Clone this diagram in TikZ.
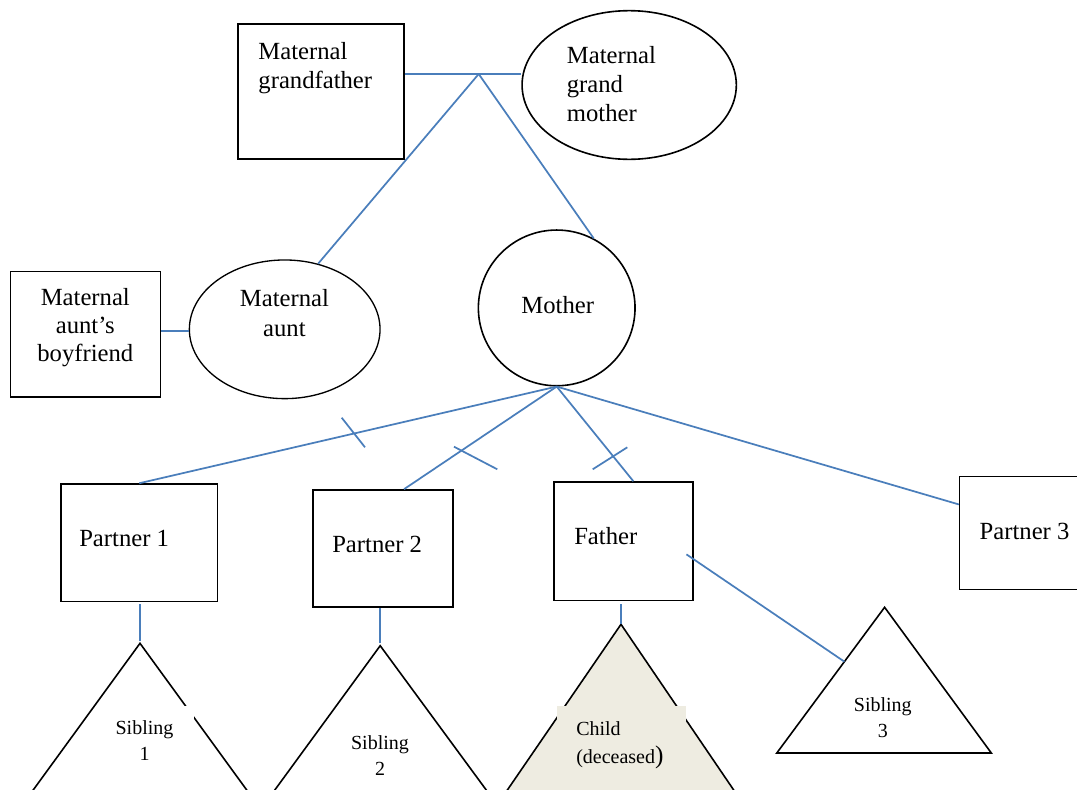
\documentclass[tikz,border=0pt]{standalone}
\usepackage{fontspec}
\setmainfont{Liberation Serif}
\usetikzlibrary{shapes.geometric,calc}
\definecolor{linkblue}{RGB}{74,126,187}
\definecolor{deadfill}{HTML}{EEECE1}
\begin{document}
\begin{tikzpicture}[x=0.75pt,y=-0.75pt,
  person/.style={draw=black,line width=1.2pt,inner sep=0pt},
  malebox/.style={person,rectangle},
  femaleoval/.style={person,ellipse},
  link/.style={draw=linkblue,line width=1.3pt},
  bigtext/.style={font=\fontsize{18.5}{21.75}\selectfont,inner sep=0pt},
  smalltext/.style={font=\fontsize{15}{19.5}\selectfont,inner sep=0pt}]
\clip (0,0) rectangle (1077,789);

% persons
\node[malebox,minimum width=124.1pt,minimum height=101.5pt,line width=1.6pt] (gf) at (321.05,91.65) {};
\node[femaleoval,minimum width=160.7pt,minimum height=111.5pt] (gm) at (629.2,85) {};
\node[malebox,minimum width=112.6pt,minimum height=94pt,line width=1pt] (bf) at (85.35,334.35) {};
\node[femaleoval,minimum width=143pt,minimum height=104pt,line width=1pt] (au) at (284.7,329.3) {};
\node[femaleoval,minimum width=117.5pt,minimum height=116.8pt] (mo) at (556.7,307.9) {};
\node[malebox,minimum width=117.2pt,minimum height=88pt] (p1) at (139.3,542.7) {};
\node[malebox,minimum width=104.8pt,minimum height=87.8pt] (p2) at (382.85,548.5) {};
\node[malebox,minimum width=104.3pt,minimum height=89pt] (fa) at (623.5,541.35) {};
\node[malebox,minimum width=94pt,minimum height=84.5pt] (p3) at (1022.3,533) {};

% triangles
\coordinate (s1) at (140,643.3);
\coordinate (s1l) at (25.9,800);
\coordinate (s1r) at (254,800);
\draw[person,line join=miter] (s1l) -- (s1) -- (s1r);

\coordinate (s2) at (380.2,645.7);
\coordinate (s2l) at (267.5,800);
\coordinate (s2r) at (493.6,800);
\draw[person] (s2l) -- (s2) -- (s2r);

\coordinate (ch) at (621,624.3);
\coordinate (chl) at (500.5,800);
\coordinate (chr) at (740.5,800);
\fill[deadfill] (chl) -- (ch) -- (chr) -- cycle;
\draw[person] (chl) -- (ch) -- (chr);

\coordinate (s3) at (884.6,607.3);
\coordinate (s3l) at (776.8,753);
\coordinate (s3r) at (991.3,753);
\draw[person] (s3) -- (s3l) -- (s3r) -- cycle;

% connectors
\coordinate (gj) at (478.7,74);
\draw[link] (gf.east |- gj) -- (gm.west |- gj);
\draw[link] (gj) -- (au.63);
\draw[link] (gj) -- (mo.62);
\coordinate (bfa) at ($(au.west)+(0,1.5)$);
\draw[link] (bf.east |- bfa) -- (bfa);

\coordinate (mj) at (mo.south);
\draw[link] (mj) -- (p1.north);
\draw[link] (mj) -- ($(p2.north)!0.3!(p2.north east)$);
\draw[link] (mj) -- ($(fa.north)!0.14!(fa.north east)$);
\draw[link] (mj) -- ($(p3.north west)!0.25!(p3.south west)$);

% separation marks
\draw[link] (341.7,417.7) -- (365,447.3);
\draw[link] (454,446.7) -- (497.3,469.3);
\draw[link] (592.7,469.3) -- (627.3,447.3);

\draw[link,shorten <=1.4pt,shorten >=2pt] (p1.south -| s1) -- (s1);
\draw[link,shorten >=1.8pt] (p2.south -| s2) -- (s2);
\draw[link,shorten <=2pt] (fa.south -| ch) -- (ch);
\coordinate (fas) at ($(fa.east)+(-7.4,13)$);
\draw[link] (fas) -- ($(s3)!0.373!(s3l)$);

% texts
\node[bigtext,anchor=north west,align=left] (gft) at (258.2,41.8) {Maternal\\grandfather};
\node[bigtext,anchor=north west,align=left,font=\fontsize{18.5}{21.75}\selectfont] (gmt) at (566.6,46) {Maternal\\grand\\mother};
\node[bigtext,anchor=north,align=center,font=\fontsize{18.5}{21.2}\selectfont] (bft) at (85.3,287.8) {Maternal\\aunt’s\\boyfriend};
\node[bigtext,anchor=north,align=center,font=\fontsize{18.5}{22.5}\selectfont] (aut) at (284.4,289.4) {Maternal\\aunt};
\node[bigtext,anchor=west] (mot) at (521.2,305) {Mother};
\node[bigtext,anchor=west] (p1t) at (79,538) {Partner 1};
\node[bigtext,anchor=west] (p2t) at (332,544) {Partner 2};
\node[bigtext,anchor=west] (fat) at (574,535.7) {Father};
\node[bigtext,anchor=west] (p3t) at (979.4,531.7) {Partner 3};

\fill[white] (97,706) rectangle (193.5,770);
\node[smalltext,anchor=north,align=center] (s1t) at (144.5,720) {Sibling\\1};
\node[smalltext,anchor=north,align=center] (s2t) at (380,735) {Sibling\\2};
\node[smalltext,anchor=north,align=center] (s3t) at (882.8,697.6) {Sibling\\3};
\fill[deadfill] (557,706) rectangle (686,775);
\node[smalltext,anchor=north west,align=left,font=\fontsize{15}{21.5}\selectfont] (cht) at (576,721.1) {Child\\(deceased{\fontsize{19}{21.5}\selectfont)}};
\end{tikzpicture}
\end{document}
